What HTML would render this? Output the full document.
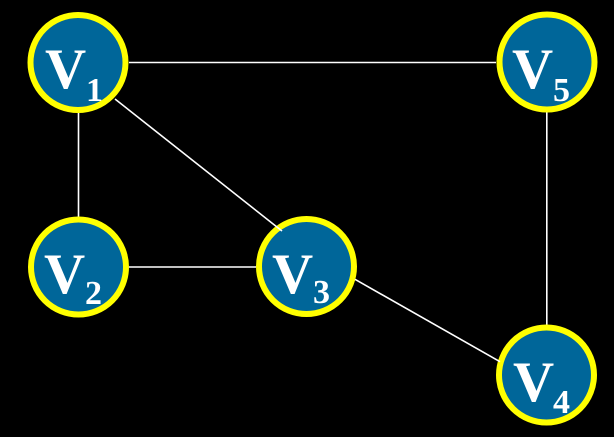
<!DOCTYPE html>
<html>
<head>
<meta charset="utf-8">
<style>
  html, body { margin: 0; padding: 0; background: #000; }
  body { width: 614px; height: 437px; overflow: hidden; }
  svg { display: block; }
  .v { font-family: "Liberation Serif", serif; font-weight: bold; fill: #fff; font-size: 57px; }
  .s { font-family: "Liberation Serif", serif; font-weight: bold; fill: #fff; font-size: 34px; }
</style>
</head>
<body>
<svg width="614" height="437" viewBox="0 0 614 437" xmlns="http://www.w3.org/2000/svg">
  <rect width="614" height="437" fill="#000"/>
  <g stroke="#fff" stroke-width="1.6" fill="none">
    <line x1="129" y1="62.5" x2="496" y2="62.5"/>
    <line x1="78.5" y1="112" x2="78.5" y2="217"/>
    <line x1="129" y1="267" x2="256" y2="267"/>
    <line x1="546.8" y1="112" x2="546.8" y2="325"/>
  </g>
  <g fill="#006699" stroke="#ffff00" stroke-width="6">
    <circle cx="78" cy="62.5" r="47.5"/>
    <circle cx="78.5" cy="267" r="47.5"/>
    <circle cx="306.5" cy="266.5" r="47.5"/>
    <circle cx="546.5" cy="375" r="47.5"/>
    <circle cx="547" cy="62" r="47.5"/>
  </g>
  <g stroke="#fff" stroke-width="1.6" fill="none">
    <line x1="115" y1="99" x2="282" y2="231"/>
    <line x1="355" y1="279.3" x2="500" y2="361.7"/>
  </g>
  <text class="v" x="45" y="88">V</text><text class="s" x="86" y="101">1</text>
  <text class="v" x="44" y="293">V</text><text class="s" x="85" y="304">2</text>
  <text class="v" x="272" y="293">V</text><text class="s" x="313" y="303">3</text>
  <text class="v" x="513" y="401">V</text><text class="s" x="553" y="413">4</text>
  <text class="v" x="512" y="88">V</text><text class="s" x="553" y="101">5</text>
</svg>
</body>
</html>
